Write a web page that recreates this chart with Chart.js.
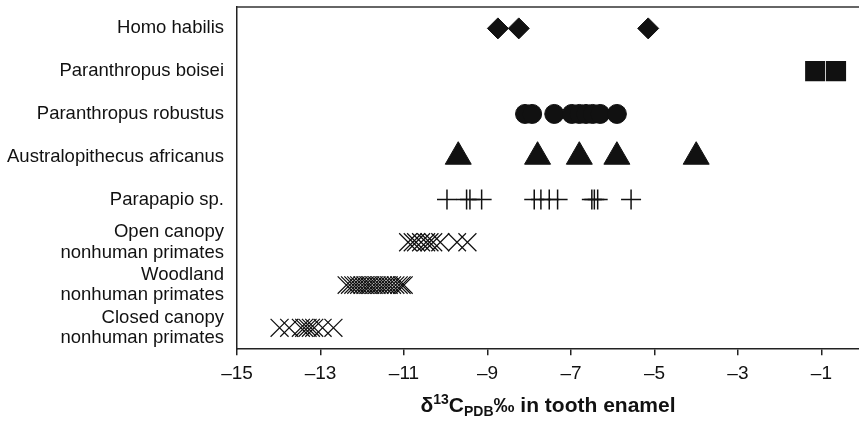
<!DOCTYPE html>
<html>
<head>
<meta charset="utf-8">
<script src="https://cdn.jsdelivr.net/npm/chart.js@4"></script>
<style>
  html, body { margin: 0; padding: 0; background: #fff; }
</style>
</head>
<body>
<canvas id="isotopeChart" width="859" height="424"></canvas>
<script>
// Carbon isotope values (delta 13C, per mil)
const categories = [
    ["Homo habilis"],
    ["Paranthropus boisei"],
    ["Paranthropus robustus"],
    ["Australopithecus africanus"],
    ["Parapapio sp."],
    ["Open canopy", "nonhuman primates"],
    ["Woodland", "nonhuman primates"],
    ["Closed canopy", "nonhuman primates"]
];

const homoHabilis = [-8.75, -8.25, -5.15];
const paranthropusBoisei = [-1.15, -0.65];
const paranthropusRobustus = [-8.1, -7.93, -7.4, -6.98, -6.8, -6.64, -6.48, -6.3, -5.9];
const australopithecusAfricanus = [-9.7, -7.8, -6.8, -5.9, -4.0];
const parapapio = [-9.97, -9.5, -9.42, -9.14, -7.88, -7.72, -7.52, -7.32, -6.5, -6.44, -6.36, -5.56];
const openCanopy = [-10.9, -10.79, -10.71, -10.59, -10.47, -10.39, -10.3, -10.13, -9.73, -9.48];
const woodland = [-12.38, -12.3, -12.22, -12.15, -12.08, -12.0, -11.93, -11.86, -11.8, -11.72,
    -11.65, -11.58, -11.5, -11.43, -11.36, -11.28, -11.2, -11.12, -11.05, -11.0];
const closedCanopy = [-13.98, -13.75, -13.47, -13.39, -13.31, -13.23, -13.15, -12.95, -12.69];

const xTicks = [-15, -13, -11, -9, -7, -5, -3, -1];

const FONT = '"Liberation Sans", Arial, Helvetica, sans-serif';
const INK = "#111";

function points(values, row) {
    return values.map(v => ({ x: v, y: row }));
}

// top edge of the plot frame
const frameTop = {
    id: "frameTop",
    afterDraw(chart) {
        const { ctx, chartArea } = chart;
        ctx.save();
        ctx.strokeStyle = "#333";
        ctx.lineWidth = 1.5;
        ctx.beginPath();
        ctx.moveTo(chartArea.left, chartArea.top);
        ctx.lineTo(chartArea.right, chartArea.top);
        ctx.stroke();
        ctx.restore();
    }
};

// x-axis title with superscript / subscript
const axisTitle = {
    id: "axisTitle",
    afterDraw(chart) {
        const { ctx, chartArea } = chart;
        const big = "bold 21px " + FONT;
        const small = "bold 14px " + FONT;
        const parts = [
            ["\u03b4", big, 0],
            ["13", small, -8],
            ["C", big, 0],
            ["PDB", small, 4],
            ["\u2030 in tooth enamel", big, 0]
        ];
        ctx.save();
        let total = 0;
        parts.forEach(p => { ctx.font = p[1]; total += ctx.measureText(p[0]).width; });
        let x = (chartArea.left + chartArea.right) / 2 - total / 2;
        const baseline = 412;
        ctx.fillStyle = INK;
        ctx.textBaseline = "alphabetic";
        ctx.textAlign = "left";
        parts.forEach(p => {
            ctx.font = p[1];
            ctx.fillText(p[0], x, baseline + p[2]);
            x += ctx.measureText(p[0]).width;
        });
        ctx.restore();
    }
};

new Chart(document.getElementById("isotopeChart"), {
    type: "scatter",
    data: {
        datasets: [
            {
                data: points(homoHabilis, 0),
                pointStyle: "rectRot",
                pointRadius: 10.5,
                backgroundColor: INK,
                borderColor: INK,
                borderWidth: 1
            },
            {
                data: points(paranthropusBoisei, 1),
                pointStyle: "rect",
                pointRadius: 14.2,
                backgroundColor: INK,
                borderWidth: 0
            },
            {
                data: points(paranthropusRobustus, 2),
                pointStyle: "circle",
                pointRadius: 9.5,
                backgroundColor: INK,
                borderColor: INK,
                borderWidth: 1
            },
            {
                data: points(australopithecusAfricanus, 3),
                pointStyle: "triangle",
                pointRadius: 15,
                backgroundColor: INK,
                borderColor: INK,
                borderWidth: 1
            },
            {
                data: points(parapapio, 4),
                pointStyle: "cross",
                pointRadius: 10,
                borderColor: INK,
                borderWidth: 1.5
            },
            {
                data: points(openCanopy, 5),
                pointStyle: "crossRot",
                pointRadius: 12.7,
                borderColor: INK,
                borderWidth: 1.2
            },
            {
                data: points(woodland, 6),
                pointStyle: "crossRot",
                pointRadius: 12.3,
                borderColor: INK,
                borderWidth: 1.2
            },
            {
                data: points(closedCanopy, 7),
                pointStyle: "crossRot",
                pointRadius: 12.7,
                borderColor: INK,
                borderWidth: 1.2
            }
        ]
    },
    options: {
        responsive: false,
        animation: false,
        layout: {
            autoPadding: false,
            padding: { left: 7, top: 7, right: 0, bottom: 32 }
        },
        plugins: {
            legend: { display: false },
            tooltip: { enabled: false }
        },
        scales: {
            x: {
                type: "linear",
                min: -15,
                max: -0.1,
                afterBuildTicks: axis => {
                    axis.ticks = xTicks.map(v => ({ value: v }));
                },
                afterFit: axis => {
                    axis.paddingLeft = 0;
                    axis.paddingRight = 0;
                },
                grid: {
                    display: true,
                    drawOnChartArea: false,
                    drawTicks: true,
                    tickLength: 6,
                    color: "#222",
                    lineWidth: 1.5
                },
                border: { display: true, color: "#222", width: 1.5 },
                ticks: {
                    autoSkip: false,
                    maxRotation: 0,
                    padding: 7,
                    color: INK,
                    font: { family: FONT, size: 19 },
                    callback: v => (v < 0 ? "\u2013" + Math.abs(v) : String(v))
                }
            },
            y: {
                type: "linear",
                reverse: true,
                min: -0.5,
                max: 7.5,
                afterBuildTicks: axis => {
                    axis.ticks = categories.map((c, i) => ({ value: i }));
                },
                afterFit: axis => {
                    axis.paddingTop = 0;
                    axis.paddingBottom = 0;
                    axis.width = 230;
                },
                grid: { display: false, drawTicks: false },
                border: { display: true, color: "#222", width: 1.5 },
                ticks: {
                    autoSkip: false,
                    padding: 13,
                    color: INK,
                    font: { family: FONT, size: 18.5, lineHeight: 1.1 },
                    callback: v => categories[v]
                }
            }
        }
    },
    plugins: [frameTop, axisTitle]
});
</script>
</body>
</html>
